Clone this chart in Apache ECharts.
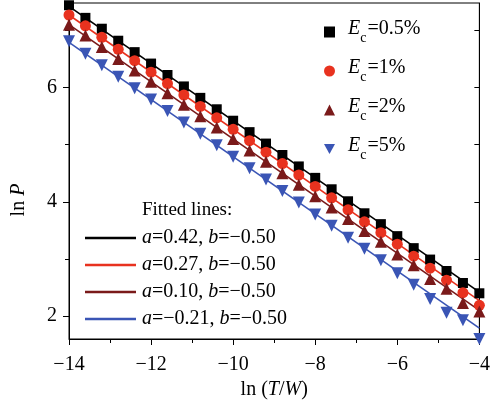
<!DOCTYPE html>
<html>
<head>
<meta charset="utf-8">
<script src="https://cdn.jsdelivr.net/npm/echarts@6/dist/echarts.min.js"></script>
<style>
  html, body { margin: 0; padding: 0; background: #fff; }
  #chart { width: 493px; height: 405px; }
</style>
</head>
<body>
<div id="chart"></div>
<script>
// ln(T/W) sample positions
var lnTW = [-14, -13.6, -13.2, -12.8, -12.4, -12, -11.6, -11.2, -10.8, -10.4, -10, -9.6, -9.2,
            -8.8, -8.4, -8, -7.6, -7.2, -6.8, -6.4, -6, -5.6, -5.2, -4.8, -4.4, -4];

// ln P
var lnP_05 = [7.44, 7.22, 7.03, 6.82, 6.62, 6.42, 6.22, 6.02, 5.82, 5.62, 5.42, 5.22, 5.02,
              4.82, 4.62, 4.42, 4.22, 4.01, 3.80, 3.61, 3.40, 3.19, 2.99, 2.79, 2.58, 2.40];
var lnP_1 = [7.27, 7.08, 6.88, 6.67, 6.47, 6.27, 6.07, 5.87, 5.67, 5.47, 5.27, 5.07, 4.87,
             4.67, 4.47, 4.27, 4.07, 3.86, 3.65, 3.46, 3.26, 3.05, 2.84, 2.63, 2.41, 2.19];
var lnP_2 = [7.10, 6.91, 6.71, 6.50, 6.30, 6.10, 5.90, 5.70, 5.50, 5.30, 5.10, 4.90, 4.70,
             4.50, 4.30, 4.10, 3.90, 3.70, 3.49, 3.30, 3.08, 2.89, 2.65, 2.48, 2.23, 2.08];
var lnP_5 = [6.81, 6.59, 6.39, 6.19, 5.99, 5.79, 5.59, 5.39, 5.19, 4.99, 4.79, 4.59, 4.39,
             4.19, 3.99, 3.78, 3.58, 3.37, 3.18, 2.98, 2.75, 2.55, 2.30, 2.06, 1.93, 1.60];

// fitted lines, end points at ln(T/W) = -14 and -4
var fitX = [-14, -4];
var fit_05 = [7.42, 2.42];
var fit_1 = [7.27, 2.27];
var fit_2 = [7.10, 2.10];
var fit_5 = [6.79, 1.79];

var ecNames = ['Ec=0.5%', 'Ec=1%', 'Ec=2%', 'Ec=5%'];
var ecText = ['0.5%', '1%', '2%', '5%'];
var fitNames = ['a=0.42, b=-0.50', 'a=0.27, b=-0.50', 'a=0.10, b=-0.50', 'a=-0.21, b=-0.50'];
var fitA = ['0.42', '0.27', '0.10', '\u22120.21'];
var fitB = ['\u22120.50', '\u22120.50', '\u22120.50', '\u22120.50'];

var colors = ['#000000', '#e8321f', '#7a1a1a', '#3a55b5'];
var symbols = ['rect', 'circle', 'triangle', 'triangle'];
var legendIcons = ['rect', 'circle', 'triangle', 'path://M0,0 L10,0 L5,9 Z'];
var symbolSizes = [10, 11, 12, 12];
var rotates = [0, 0, 0, 180];

var serif = 'Liberation Serif';

function pairs(xs, ys) {
  var out = [];
  for (var i = 0; i < xs.length; i++) out.push([xs[i], ys[i]]);
  return out;
}

var pointSets = [lnP_05, lnP_1, lnP_2, lnP_5];
var fitSets = [fit_05, fit_1, fit_2, fit_5];

var series = [];
for (var k = 0; k < 4; k++) {
  series.push({
    name: fitNames[k],
    type: 'line',
    data: pairs(fitX, fitSets[k]),
    symbol: 'none',
    lineStyle: { color: colors[k], width: 1.6 },
    itemStyle: { color: colors[k] },
    z: 2,
    silent: true
  });
}
for (var k = 0; k < 4; k++) {
  series.push({
    name: ecNames[k],
    type: 'scatter',
    data: pairs(lnTW, pointSets[k]),
    symbol: symbols[k],
    symbolSize: symbolSizes[k],
    symbolRotate: rotates[k],
    itemStyle: { color: colors[k], opacity: 1 },
    z: 3
  });
}

var richText = {
  n: { fontFamily: serif, fontSize: 20, color: '#000', padding: [0, 0, 6, 0] },
  i: { fontFamily: serif, fontSize: 20, fontStyle: 'italic', color: '#000', padding: [0, 0, 6, 0] },
  s: { fontFamily: serif, fontSize: 14, color: '#000', verticalAlign: 'bottom', padding: [0, 1, 0, 0] }
};

var chart = echarts.init(document.getElementById('chart'));

var option = {
  animation: false,
  backgroundColor: '#fff',
  grid: { left: 69, right: 9, top: 3, bottom: 65, show: true, borderColor: '#000', borderWidth: 1 },
  xAxis: {
    type: 'value',
    min: -14,
    max: -4,
    interval: 2,
    name: '{n|ln (}{i|T}{n|/}{i|W}{n|)}',
    nameLocation: 'middle',
    nameGap: 41,
    nameTextStyle: {
      fontFamily: serif, fontSize: 20, color: '#000',
      rich: {
        n: { fontFamily: serif, fontSize: 20, color: '#000' },
        i: { fontFamily: serif, fontSize: 20, fontStyle: 'italic', color: '#000' }
      }
    },
    axisLine: { show: true, onZero: false, lineStyle: { color: '#000', width: 1 } },
    axisTick: { show: true, inside: false, length: 6, lineStyle: { color: '#000' } },
    minorTick: { show: true, splitNumber: 2, length: 4, lineStyle: { color: '#000' } },
    splitLine: { show: false },
    axisLabel: {
      fontFamily: serif, fontSize: 20, color: '#000', margin: 16,
      formatter: function (v) { return String(v).replace('-', '\u2212'); }
    }
  },
  yAxis: [{
    type: 'value',
    min: 1.6,
    max: 7.48,
    position: 'left',
    axisLine: { show: true, onZero: false, lineStyle: { color: '#000', width: 1 } },
    axisTick: { show: true, length: 6, customValues: [2, 4, 6], lineStyle: { color: '#000' } },
    splitLine: { show: false },
    axisLabel: { fontFamily: serif, fontSize: 20, color: '#000', margin: 12, customValues: [2, 4, 6] }
  }, {
    type: 'value',
    min: 1.6,
    max: 7.48,
    position: 'left',
    axisLine: { show: false },
    axisTick: { show: true, length: 4, customValues: [3, 5, 7], lineStyle: { color: '#000' } },
    splitLine: { show: false },
    axisLabel: { show: false }
  }, {
    type: 'value',
    min: 1.6,
    max: 7.48,
    position: 'right',
    axisLine: { show: true, onZero: false, lineStyle: { color: '#000', width: 1 } },
    axisTick: { show: true, inside: true, length: 5, customValues: [2, 3, 4, 5, 6, 7], lineStyle: { color: '#000' } },
    splitLine: { show: false },
    axisLabel: { show: false }
  }],
  legend: [{
    data: ecNames.map(function (n, k) {
      return { name: n, icon: legendIcons[k] };
    }),
    orient: 'vertical',
    left: 319,
    top: 14,
    itemWidth: 11,
    itemHeight: 11,
    itemGap: 13,
    selectedMode: false,
    textStyle: { rich: richText, padding: [0, 0, 0, 8] },
    formatter: function (name) {
      var k = ecNames.indexOf(name);
      return '{i|E}{s|c}{n|=' + ecText[k] + '}';
    }
  }, {
    data: fitNames.map(function (n) {
      return { name: n, icon: 'rect' };
    }),
    orient: 'vertical',
    left: 80,
    top: 223,
    itemWidth: 51,
    itemHeight: 2.5,
    itemGap: 7,
    selectedMode: false,
    textStyle: { fontFamily: serif, fontSize: 20, color: '#000', padding: [0, 0, 0, 1],
      rich: {
        n: { fontFamily: serif, fontSize: 20, color: '#000' },
        i: { fontFamily: serif, fontSize: 20, fontStyle: 'italic', color: '#000' }
      }
    },
    formatter: function (name) {
      var k = fitNames.indexOf(name);
      return '{i|a}{n|=' + fitA[k] + ', }{i|b}{n|=' + fitB[k] + '}';
    }
  }],
  graphic: [{
    type: 'text',
    left: 142,
    top: 201,
    style: { text: 'Fitted lines:', font: '19px "Liberation Serif"', fill: '#000' }
  }, {
    type: 'text',
    x: 19,
    y: 200,
    rotation: Math.PI / 2,
    style: {
      text: '{n|ln }{i|P}',
      rich: {
        n: { fontFamily: serif, fontSize: 20, fill: '#000' },
        i: { fontFamily: serif, fontSize: 20, fontStyle: 'italic', fill: '#000' }
      },
      align: 'center',
      verticalAlign: 'middle'
    }
  }],
  series: series
};

chart.setOption(option);
</script>
</body>
</html>
